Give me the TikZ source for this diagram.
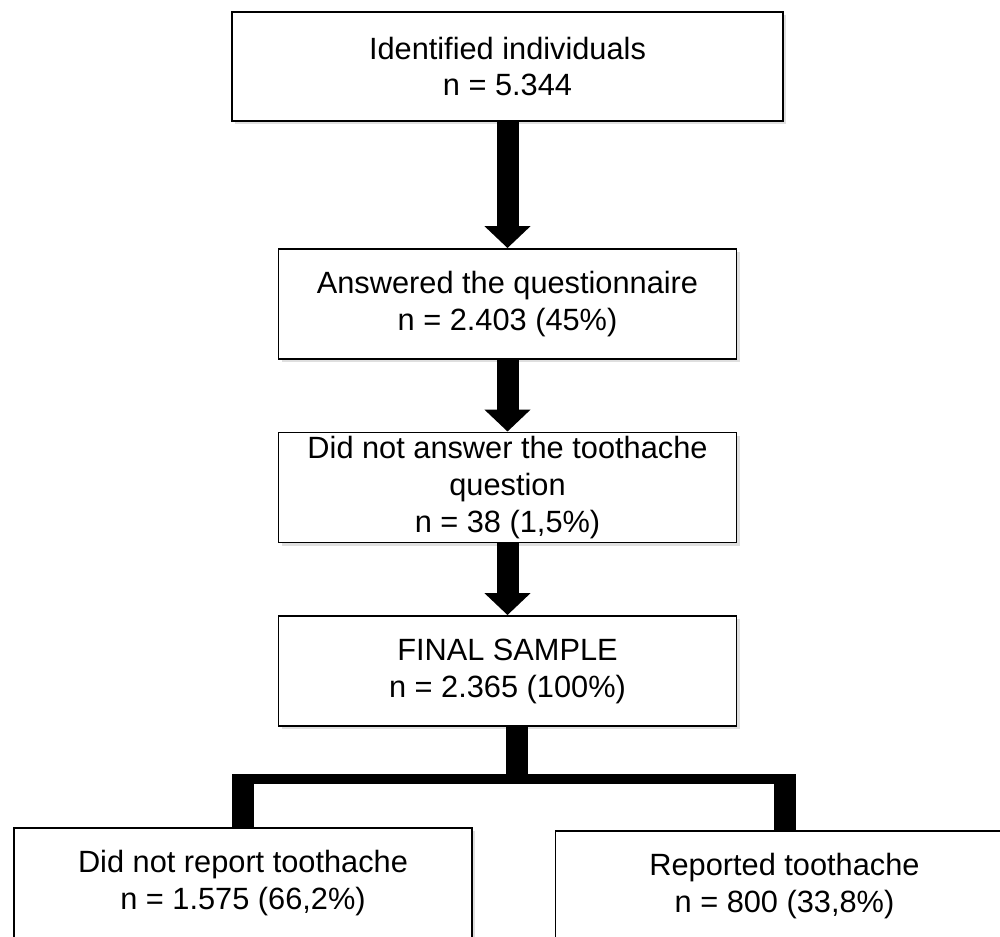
\documentclass[tikz,border=0pt]{standalone}
\usepackage{fontspec}
\setmainfont{Liberation Sans}
\usetikzlibrary{positioning}
\usetikzlibrary{arrows.meta}
\usetikzlibrary{shadows}
\tikzset{box/.style={draw, line width=1.1pt, fill=white, minimum width=9.16cm, minimum height=2.2cm, inner sep=0pt, align=center, font=\fontsize{17.5}{21}\selectfont, drop shadow={shadow xshift=0.06cm, shadow yshift=-0.06cm, opacity=0.25}}}
\tikzset{fat/.style={line width=0.44cm, -{Triangle[width=0.9cm,length=0.44cm]}}}
\tikzset{leg/.style={line width=0.44cm}}
\tikzset{bar/.style={line width=0.19cm}}

\begin{document}
\begin{tikzpicture}
\useasboundingbox (0,0) rectangle (20,-18.72);
\begin{scope}[on grid]
\node[box, minimum width=11.02cm, minimum height=2.18cm] (id) at (10.15, -1.33) {Identified individuals\\n = 5.344};
\node[box] (ans) [below = 4.75 of id] {Answered the questionnaire\\n = 2.403 (45\%)};
\node[box] (miss) [below = 3.67 of ans] {Did not answer the toothache\\question\\n = 38 (1,5\%)};
\node[box] (fin) [below = 3.67 of miss] {FINAL SAMPLE\\n = 2.365 (100\%)};

\node[box] (nor) [below left = 4.24 and 5.29 of fin] {Did not report toothache\\n = 1.575 (66,2\%)};
\node[box] (rep) [below right = 4.3 and 5.54 of fin] {Reported toothache\\n = 800 (33,8\%)};

\draw[fat] (id) -- (ans);
\draw[fat] (ans) -- (miss);
\draw[fat] (miss) -- (fin);

% split into the two groups
\coordinate (j) at ([xshift=0.19cm, yshift=-1.04cm]fin.south);
\draw[leg] ([xshift=0.19cm]fin.south) -- (j);
\draw[bar, shorten <=-0.22cm, shorten >=-0.22cm] (nor.north |- j) -- (rep.north |- j);
\draw[leg] (nor.north |- j) -- (nor.north);
\draw[leg] (rep.north |- j) -- (rep.north);
\end{scope}
\end{tikzpicture}
\end{document}
